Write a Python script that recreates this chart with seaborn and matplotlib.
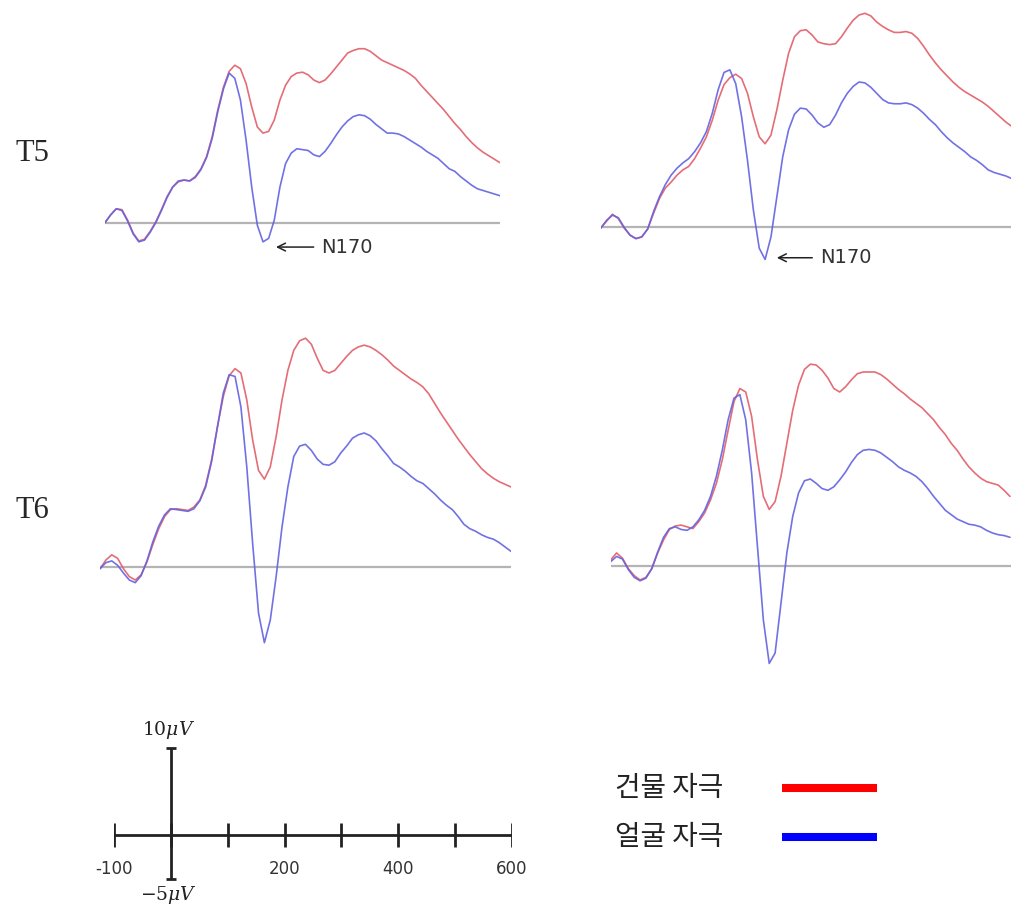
import numpy as np
import pandas as pd
import matplotlib
matplotlib.use("Agg")
import matplotlib.pyplot as plt
import seaborn as sns

# =====================================
#   DATA  (uV, 10 ms steps)
# =====================================
time = np.arange(-100, 610, 10)

# T5, left column
t5_a_building = [0, 0.9, 1.6, 1.5, 0.3, -1.2, -2.1, -1.9, -1.0, 0.1,
                 1.5, 3.0, 4.1, 4.7, 4.9, 4.8, 5.3, 6.2, 7.6, 9.9,
                 13.0, 15.6, 17.4, 18.1, 17.7, 16.0, 13.3, 11.0, 10.3, 10.5,
                 11.8, 14.1, 15.8, 16.8, 17.2, 17.3, 17.0, 16.4, 16.1, 16.4,
                 17.1, 17.9, 18.7, 19.5, 19.8, 20.0, 20.0, 19.7, 19.2, 18.7,
                 18.4, 18.1, 17.8, 17.5, 17.1, 16.6, 15.8, 15.1, 14.4, 13.7,
                 13.0, 12.2, 11.4, 10.7, 9.9, 9.2, 8.6, 8.1, 7.7, 7.3,
                 6.9]
t5_a_face = [0, 0.9, 1.6, 1.4, 0.2, -1.3, -2.2, -2.0, -1.1, 0.0,
             1.4, 2.9, 4.1, 4.8, 4.9, 4.8, 5.2, 6.1, 7.5, 9.7,
             12.8, 15.4, 17.2, 16.6, 14.1, 9.5, 4.1, -0.3, -2.2, -1.8,
             0.3, 4.1, 6.8, 8.0, 8.5, 8.4, 8.3, 7.8, 7.6, 8.2,
             9.1, 10.1, 11.0, 11.7, 12.2, 12.4, 12.3, 11.9, 11.3, 10.8,
             10.3, 10.3, 10.2, 9.9, 9.5, 9.1, 8.7, 8.2, 7.8, 7.4,
             6.8, 6.2, 5.9, 5.3, 4.8, 4.3, 3.9, 3.7, 3.5, 3.3,
             3.1]

# T5, right column
t5_b_building = [-0.1, 0.7, 1.5, 1.0, -0.1, -0.9, -1.3, -1.1, -0.2, 1.6,
                 3.3, 4.5, 5.2, 6.0, 6.6, 7.0, 7.9, 9.1, 10.4, 12.3,
                 14.6, 16.4, 17.2, 17.6, 17.1, 15.4, 12.7, 10.4, 9.6, 10.6,
                 13.5, 16.9, 20.0, 21.9, 22.6, 22.7, 22.1, 21.3, 21.1, 21.0,
                 21.1, 21.9, 22.9, 23.8, 24.4, 24.6, 24.3, 23.6, 23.1, 22.7,
                 22.4, 22.4, 22.5, 22.3, 21.7, 20.8, 19.8, 18.9, 18.1, 17.4,
                 16.7, 16.1, 15.6, 15.2, 14.8, 14.4, 13.9, 13.3, 12.7, 12.1,
                 11.6]
t5_b_face = [-0.1, 0.8, 1.4, 1.1, 0.0, -0.9, -1.3, -1.1, -0.2, 1.8,
             3.5, 4.9, 6.0, 6.8, 7.4, 7.9, 8.7, 9.7, 11.0, 13.1,
             15.8, 17.8, 18.1, 16.5, 12.7, 7.7, 2.0, -2.4, -3.7, -1.1,
             3.5, 8.1, 11.2, 13.0, 13.7, 13.6, 12.9, 12.0, 11.5, 11.8,
             12.9, 14.3, 15.4, 16.2, 16.7, 16.6, 16.1, 15.4, 14.7, 14.3,
             14.2, 14.2, 14.3, 14.1, 13.7, 13.1, 12.4, 11.8, 11.0, 10.3,
             9.7, 9.2, 8.7, 8.1, 7.7, 7.2, 6.6, 6.3, 6.1, 5.9,
             5.6]

# T6, left column
t6_a_building = [-0.2, 0.8, 1.4, 1.0, -0.2, -1.1, -1.5, -0.9, 0.6, 2.6,
                 4.4, 5.8, 6.6, 6.7, 6.6, 6.5, 6.9, 7.7, 9.4, 12.3,
                 16.1, 19.6, 22.0, 22.8, 22.3, 19.2, 14.6, 11.1, 10.1, 11.5,
                 15.0, 19.2, 22.6, 24.9, 26.0, 26.3, 25.6, 24.0, 22.6, 22.3,
                 22.6, 23.4, 24.2, 24.9, 25.3, 25.5, 25.3, 24.9, 24.4, 23.8,
                 23.1, 22.6, 22.1, 21.6, 21.2, 20.7, 19.9, 18.8, 17.7, 16.7,
                 15.7, 14.7, 13.8, 12.9, 12.1, 11.3, 10.7, 10.2, 9.8, 9.5,
                 9.2]
t6_a_face = [-0.2, 0.5, 0.7, 0.2, -0.7, -1.5, -1.8, -1.0, 0.7, 2.9,
             4.7, 6.0, 6.7, 6.6, 6.5, 6.4, 6.7, 7.6, 9.2, 12.1,
             16.1, 20.0, 22.1, 21.9, 18.4, 11.5, 2.7, -5.3, -8.7, -6.1,
             -1.1, 4.6, 9.2, 12.7, 13.9, 14.1, 13.4, 12.4, 11.8, 11.7,
             12.1, 13.1, 13.9, 14.8, 15.2, 15.4, 15.1, 14.5, 13.6, 12.8,
             11.9, 11.5, 11.0, 10.4, 9.9, 9.6, 9.0, 8.4, 7.7, 7.1,
             6.6, 5.8, 4.9, 4.4, 4.1, 3.7, 3.4, 3.2, 2.8, 2.3,
             1.8]

# T6, right column (cut at the image edge, ~580 ms)
t6_b_building = [0.7, 1.5, 0.9, -0.3, -1.1, -1.6, -1.3, -0.3, 1.5, 3.0,
                 4.2, 4.6, 4.7, 4.5, 4.3, 5.1, 6.1, 7.6, 9.5, 12.2,
                 15.6, 18.9, 20.4, 20.0, 17.2, 12.2, 8.0, 6.5, 7.4, 10.3,
                 14.1, 17.9, 20.8, 22.6, 23.2, 23.1, 22.5, 21.6, 20.4, 20.0,
                 20.6, 21.4, 22.1, 22.3, 22.3, 22.3, 22.0, 21.5, 20.9, 20.3,
                 19.8, 19.2, 18.7, 18.2, 17.5, 16.8, 15.9, 15.1, 14.1, 13.3,
                 12.3, 11.4, 10.7, 10.1, 9.7, 9.5, 9.3, 8.7, 8.0]
t6_b_face = [0.5, 1.1, 0.8, -0.4, -1.3, -1.7, -1.4, -0.3, 1.6, 3.3,
             4.3, 4.5, 4.2, 4.1, 4.5, 5.3, 6.4, 8.0, 10.3, 13.3,
             16.8, 19.3, 19.7, 16.8, 10.7, 2.2, -6.2, -11.2, -10.0, -4.3,
             1.5, 5.7, 8.4, 9.8, 10.0, 9.5, 8.9, 8.7, 9.1, 9.9,
             10.8, 11.9, 12.8, 13.3, 13.4, 13.3, 13.0, 12.5, 12.0, 11.4,
             11.0, 10.7, 10.3, 9.7, 8.9, 8.0, 7.2, 6.4, 5.9, 5.4,
             5.1, 4.8, 4.7, 4.5, 4.1, 3.8, 3.6, 3.5, 3.3]

row_labels = ["T5", "T6"]
stimuli = ["건물 자극", "얼굴 자극"]
curve_colors = {"건물 자극": "#e25d68", "얼굴 자극": "#6262e2"}
legend_colors = ["#ff0000", "#0000ff"]

scale_ticks = [-100, 0, 100, 200, 300, 400, 500, 600]
scale_labels = {-100: "-100", 200: "200", 400: "400", 600: "600"}

# =====================================
#   FIGURE
# =====================================
sns.set_style("white")
plt.rcParams["font.family"] = ["DejaVu Sans", "Noto Sans CJK KR"]
plt.rcParams["mathtext.fontset"] = "dejavuserif"

W, H = 1011, 910
PX_UV = 8.7
fig = plt.figure(figsize=(W / 100, H / 100), dpi=100)


def add_panel(x0, x1, base, lo, hi):
    # axes placed by pixel box; 1 uV = PX_UV pixels
    top = base - hi * PX_UV
    bot = base - lo * PX_UV
    ax = fig.add_axes([x0 / W, 1 - bot / H, (x1 - x0) / W, (bot - top) / H])
    ax.set_xlim(-100, 600)
    ax.set_ylim(lo, hi)
    ax.axis("off")
    return ax


panels = [
    (t5_a_building, t5_a_face, (105, 500, 222.7, -4, 21), (203, -2.8, 283)),
    (t5_b_building, t5_b_face, (600.7, 1011.7, 227.3, -5, 25.5), (200, -3.5, 273)),
    (t6_a_building, t6_a_face, (100, 511, 567, -10, 27.5), None),
    (t6_b_building, t6_b_face, (610.7, 1021.7, 566, -12.5, 24.5), None),
]

for building, face, box, note in panels:
    ax = add_panel(*box)
    ax.axhline(0, color="#b4b4b4", lw=1.6, zorder=1)
    n = len(building)
    df = pd.DataFrame({
        "time": np.concatenate([time[:n], time[:n]]),
        "uV": np.concatenate([building, face]),
        "stimulus": [stimuli[0]] * n + [stimuli[1]] * n,
    })
    sns.lineplot(data=df, x="time", y="uV", hue="stimulus", palette=curve_colors,
                 hue_order=stimuli, legend=False, sort=False, errorbar=None,
                 lw=1.2, alpha=0.9, solid_joinstyle="round", ax=ax)
    ax.axis("off")
    if note is not None:
        ax.annotate("N170", xy=(note[0], note[1]), xytext=(note[2], note[1]),
                    ha="left", va="center", fontsize=14, color="#333333",
                    arrowprops=dict(arrowstyle="->", color="#222222", lw=1.1,
                                    shrinkA=3, shrinkB=0, mutation_scale=14))

for label, y in zip(row_labels, [153, 510]):
    fig.text(32 / W, 1 - y / H, label, ha="center", va="center",
             family="Liberation Serif", fontsize=22)

# scale bar
sb = add_panel(114, 512, 835, -7, 12)
sb.hlines(0, -100, 600, color="#222222", lw=2)
sb.vlines(scale_ticks, -1.4, 1.4, color="#222222", lw=2)
sb.vlines(0, -5, 10, color="#222222", lw=2)
sb.hlines([10, -5], -9, 9, color="#222222", lw=2)
for t, s in scale_labels.items():
    sb.text(t, -3.9, s, ha="center", va="center", fontsize=12, color="#333333")
sb.text(-4, 12.1, r"$10\mu V$", ha="center", va="center", fontsize=13.5, color="#222222")
sb.text(-4, -6.9, r"$-5\mu V$", ha="center", va="center", fontsize=13.5, color="#222222")

# legend
lg = fig.add_axes([600 / W, 1 - 870 / H, 300 / W, 110 / H])
lg.set_xlim(600, 900)
lg.set_ylim(870, 760)
lg.axis("off")
for name, col, y in zip(stimuli, legend_colors, [788, 837]):
    lg.text(615, y, name, ha="left", va="center", fontsize=20,
            family=["Noto Sans CJK KR"], color="#222222")
    lg.plot([782, 877], [y, y], color=col, lw=5.8, solid_capstyle="butt")

fig.savefig("out.png", dpi=100)
